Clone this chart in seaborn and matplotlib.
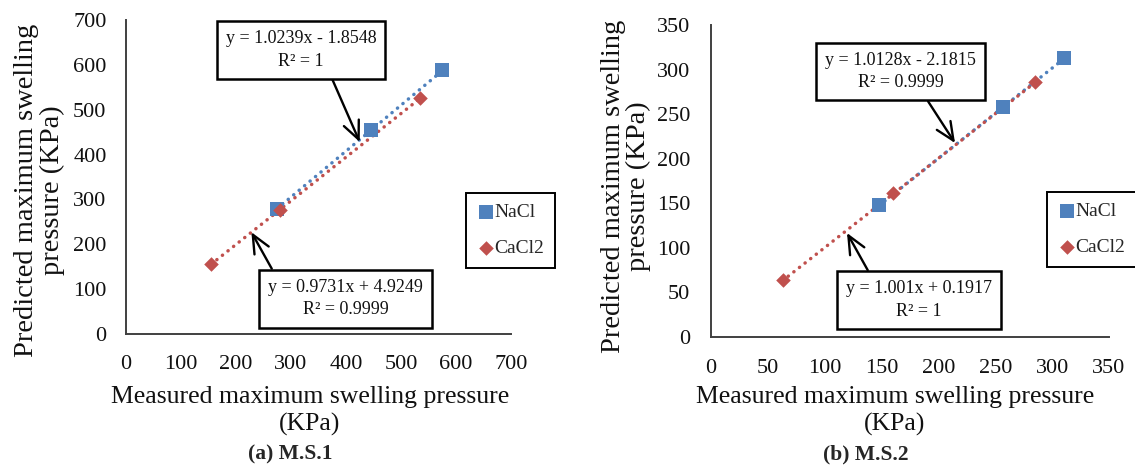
import matplotlib
matplotlib.use("Agg")
import matplotlib.pyplot as plt
import numpy as np
import pandas as pd
import seaborn as sns

# ---- data -------------------------------------------------------------
salts = ["NaCl", "CaCl2"]

ms1_nacl_measured = [275, 445, 575]
ms1_nacl_predicted = [279, 454, 588]
ms1_cacl2_measured = [155, 280, 535]
ms1_cacl2_predicted = [155, 277, 526]

ms2_nacl_measured = [148, 257, 310]
ms2_nacl_predicted = [148, 258, 313]
ms2_cacl2_measured = [63, 160, 285]
ms2_cacl2_predicted = [64, 161, 286]

# linear trendlines (slope, intercept, R^2)
ms1_nacl_fit = (1.0239, -1.8548, "1")
ms1_cacl2_fit = (0.9731, 4.9249, "0.9999")
ms2_nacl_fit = (1.0128, -2.1815, "0.9999")
ms2_cacl2_fit = (1.001, 0.1917, "1")

ms1_ticks = [0, 100, 200, 300, 400, 500, 600, 700]
ms2_ticks = [0, 50, 100, 150, 200, 250, 300, 350]

captions = ["(a) M.S.1", "(b) M.S.2"]
xlabel = "Measured maximum swelling pressure\n(KPa)"
ylabel = "Predicted maximum swelling\npressure (KPa)"

# ---- style ------------------------------------------------------------
sns.set_style("white")
plt.rcParams["font.family"] = ["Liberation Serif", "DejaVu Serif"]

BLUE = "#4F81BD"
RED = "#C0504D"
AXIS = "#404040"

W, H = 1135, 467
fig = plt.figure(figsize=(W / 100, H / 100), dpi=100)


def px_axes(x0, y0, x1, y1):
    return fig.add_axes([x0 / W, 1 - y1 / H, (x1 - x0) / W, (y1 - y0) / H])


def eq_text(fit):
    slope, intercept, r2 = fit
    sign = "-" if intercept < 0 else "+"
    return f"y = {slope:g}x {sign} {abs(intercept):.4f}\nR² = {r2}"


def panel(ax, nacl_x, nacl_y, cacl_x, cacl_y, nacl_fit, cacl_fit, ticks,
          top_note, bottom_note, legend_anchor, ylab_xy, xlab_xy, tickpads):
    df = pd.concat([
        pd.DataFrame({"measured": nacl_x, "predicted": nacl_y, "salt": salts[0]}),
        pd.DataFrame({"measured": cacl_x, "predicted": cacl_y, "salt": salts[1]}),
    ])

    # dotted linear trendlines over each series' measured range
    for xs, fit, col in ((nacl_x, nacl_fit, BLUE), (cacl_x, cacl_fit, RED)):
        xr = np.array([min(xs), max(xs)], dtype=float)
        yr = fit[0] * xr + fit[1]
        sns.lineplot(x=xr, y=yr, ax=ax, color=col, lw=2.5,
                     linestyle=(0, (0.05, 2.0)), dash_capstyle="round",
                     legend=False, zorder=2)

    sns.scatterplot(data=df[df.salt == salts[0]], x="measured", y="predicted",
                    ax=ax, color=BLUE, marker="s", s=95, linewidth=0,
                    label=salts[0], zorder=3)
    sns.scatterplot(data=df[df.salt == salts[1]], x="measured", y="predicted",
                    ax=ax, color=RED, marker="D", s=55, linewidth=0,
                    label=salts[1], zorder=3)

    ax.set_xlim(ticks[0], ticks[-1])
    ax.set_ylim(ticks[0], ticks[-1])
    ax.set_xticks(ticks)
    ax.set_yticks(ticks)
    ax.tick_params(axis="both", direction="in", length=7, width=1.4,
                   color=AXIS, labelsize=16, labelcolor="#111111")
    ax.tick_params(axis="x", pad=tickpads[0])
    ax.tick_params(axis="y", pad=tickpads[1])
    for side in ("top", "right"):
        ax.spines[side].set_visible(False)
    for side in ("left", "bottom"):
        ax.spines[side].set_color(AXIS)
        ax.spines[side].set_linewidth(1.4)

    ax.set_xlabel(xlabel, fontsize=18.5, linespacing=1.3, va="center",
                  color="#111111")
    ax.xaxis.set_label_coords(*xlab_xy)
    ax.set_ylabel(ylabel, fontsize=20.5, linespacing=1.0, va="center",
                  color="#111111")
    ax.yaxis.set_label_coords(*ylab_xy)

    box = dict(boxstyle="square,pad=0.5", fc="white", ec="black", lw=1.8)
    for fit, (txt_xy, tip_xy, relpos) in ((nacl_fit, top_note), (cacl_fit, bottom_note)):
        ax.annotate(eq_text(fit), xy=tip_xy, xytext=txt_xy,
                    textcoords="data", xycoords="data",
                    ha="center", va="center", fontsize=13, linespacing=1.45,
                    color="#111111", bbox=box, zorder=5,
                    arrowprops=dict(arrowstyle="->,head_length=1.0,head_width=0.45",
                                    color="black", lw=1.7, relpos=relpos,
                                    shrinkA=0, shrinkB=0))

    h, l = ax.get_legend_handles_labels()
    ax.legend(h, l, loc="upper left",
              bbox_to_anchor=(legend_anchor[0] / W, 1 - legend_anchor[1] / H),
              bbox_transform=fig.transFigure, fontsize=14, frameon=True,
              fancybox=False, edgecolor="black", framealpha=1,
              labelspacing=0.95, handletextpad=-0.1, handlelength=1.0,
              borderpad=0.55, borderaxespad=0, markerscale=1.0)
    ax.get_legend().get_frame().set_linewidth(1.4)


ax1 = px_axes(126, 20, 511, 334)
panel(ax1, ms1_nacl_measured, ms1_nacl_predicted,
      ms1_cacl2_measured, ms1_cacl2_predicted,
      ms1_nacl_fit, ms1_cacl2_fit, ms1_ticks,
      top_note=((318, 634), (425, 428), (0.68, 0)),
      bottom_note=((399, 79), (228, 227), (0.06, 1)),
      legend_anchor=(466, 193),
      ylab_xy=(-0.2247, 0.4586), xlab_xy=(0.478, -0.245),
      tickpads=(15, 14))

ax2 = px_axes(711, 25, 1109, 337)
panel(ax2, ms2_nacl_measured, ms2_nacl_predicted,
      ms2_cacl2_measured, ms2_cacl2_predicted,
      ms2_nacl_fit, ms2_cacl2_fit, ms2_ticks,
      top_note=((166.7, 297.8), (214.6, 217.6), (0.64, 0)),
      bottom_note=((182.5, 41.5), (119.6, 116.7), (0.19, 1)),
      legend_anchor=(1047, 192),
      ylab_xy=(-0.2136, 0.484), xlab_xy=(0.462, -0.237),
      tickpads=(16, 15))

for cx, cap in zip((290, 866), captions):
    fig.text(cx / W, 1 - 454 / H, cap, ha="center", va="center",
             fontsize=15.5, fontweight="bold")

fig.savefig("out.png", dpi=100, facecolor="white")
